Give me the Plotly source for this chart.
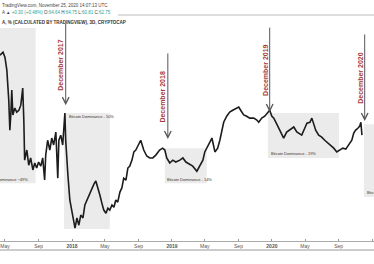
import plotly.graph_objects as go

# ---------------- data (Bitcoin dominance, %, 3D) ----------------
dates = [
    "2017-04-13", "2017-04-24", "2017-05-01", "2017-05-08", "2017-05-15", "2017-05-19", "2017-05-23",
    "2017-05-26", "2017-05-30", "2017-06-06", "2017-06-13", "2017-06-21", "2017-06-28", "2017-07-05",
    "2017-07-09", "2017-07-12", "2017-07-20", "2017-07-27", "2017-08-03", "2017-08-11", "2017-08-18",
    "2017-08-25", "2017-09-01", "2017-09-09", "2017-09-16", "2017-09-23", "2017-09-27", "2017-10-04",
    "2017-10-12", "2017-10-19", "2017-10-26", "2017-11-03", "2017-11-10", "2017-11-14", "2017-11-21",
    "2017-11-28", "2017-12-06", "2017-12-09", "2017-12-17", "2017-12-24", "2018-01-01", "2018-01-08",
    "2018-01-12", "2018-01-19", "2018-01-26", "2018-02-02", "2018-02-10", "2018-02-17", "2018-02-28",
    "2018-03-11", "2018-03-22", "2018-03-29", "2018-04-06", "2018-04-13", "2018-04-20", "2018-04-27",
    "2018-05-05", "2018-05-12", "2018-05-19", "2018-05-27", "2018-06-03", "2018-06-10", "2018-06-17",
    "2018-06-25", "2018-07-02", "2018-07-09", "2018-07-17", "2018-07-24", "2018-07-31", "2018-08-08",
    "2018-08-15", "2018-08-22", "2018-08-29", "2018-09-09", "2018-09-20", "2018-10-01", "2018-10-12",
    "2018-10-23", "2018-11-03", "2018-11-17", "2018-11-28", "2018-12-06", "2018-12-13", "2018-12-24",
    "2019-01-04", "2019-01-15", "2019-01-30", "2019-02-10", "2019-02-21", "2019-03-07", "2019-03-18",
    "2019-04-02", "2019-04-13", "2019-04-24", "2019-05-01", "2019-05-08", "2019-05-19", "2019-05-27",
    "2019-06-07", "2019-06-17", "2019-06-25", "2019-07-02", "2019-07-09", "2019-07-20", "2019-07-31",
    "2019-08-11", "2019-08-22", "2019-09-02", "2019-09-09", "2019-09-20", "2019-10-01", "2019-10-12",
    "2019-10-27", "2019-11-07", "2019-11-14", "2019-11-25", "2019-12-06", "2019-12-17", "2019-12-24",
    "2020-01-01", "2020-01-08", "2020-01-19", "2020-01-26", "2020-02-06", "2020-02-13", "2020-02-24",
    "2020-03-06", "2020-03-21", "2020-04-01", "2020-04-12", "2020-04-19", "2020-04-30", "2020-05-08",
    "2020-05-19", "2020-05-26", "2020-06-02", "2020-06-09", "2020-06-20", "2020-07-01", "2020-07-12",
    "2020-07-23", "2020-08-03", "2020-08-14", "2020-08-25", "2020-09-05", "2020-09-16", "2020-09-27",
    "2020-10-04", "2020-10-12", "2020-10-19", "2020-10-26", "2020-11-02", "2020-11-10", "2020-11-17",
    "2020-11-21", "2020-11-25",
]
dominance = [
    87.7, 88.7, 87.1, 83.0, 73.5, 64.0, 69.7,
    76.7, 68.8, 71.0, 69.7, 70.3, 71.9, 77.3,
    67.2, 54.5, 57.7, 52.9, 55.2, 51.4, 53.6,
    52.0, 53.9, 52.6, 55.2, 48.2, 56.1, 60.8,
    57.7, 61.5, 59.3, 63.4, 48.8, 60.8, 62.4,
    59.3, 69.4, 60.8, 49.8, 41.9, 38.1, 34.9,
    33.0, 36.2, 33.9, 37.1, 36.2, 40.3, 42.5,
    45.0, 46.9, 47.9, 45.7, 43.4, 40.9, 38.7,
    37.7, 39.3, 38.7, 40.3, 39.6, 41.9, 41.2,
    44.4, 45.7, 48.8, 48.2, 52.0, 52.6, 54.5,
    57.1, 57.7, 58.9, 60.8, 57.7, 55.8, 55.2,
    55.2, 56.1, 57.7, 58.3, 57.7, 55.2, 53.6,
    54.5, 53.9, 54.5, 55.2, 53.9, 53.3, 52.6,
    51.0, 52.6, 54.5, 57.1, 58.3, 60.2, 61.5,
    57.1, 58.3, 60.8, 64.0, 66.5, 68.4, 69.7,
    70.3, 70.7, 71.3, 70.3, 68.8, 68.4, 67.8,
    67.8, 67.2, 66.5, 67.8, 68.4, 69.7, 70.3,
    68.4, 67.8, 65.9, 64.6, 62.7, 61.5, 63.4,
    64.0, 65.0, 63.4, 62.7, 62.4, 64.6, 66.2,
    66.5, 67.8, 65.9, 64.0, 62.4, 61.8, 60.8,
    59.9, 59.3, 58.3, 57.1, 57.7, 58.3, 58.0,
    58.9, 59.9, 60.8, 63.1, 64.0, 64.6, 65.3,
    66.5, 62.4,
]

tick_dates = ["2017-05-01", "2017-09-01", "2018-01-01", "2018-05-01", "2018-09-01", "2019-01-01",
              "2019-05-01", "2019-09-01", "2020-01-01", "2020-05-01", "2020-09-01", "2021-01-01"]
tick_labels = ["May", "Sep", "<b>2018</b>", "May", "Sep", "<b>2019</b>",
               "May", "Sep", "<b>2020</b>", "May", "Sep", "<b>2021</b>"]

# highlighted periods: (start, end, low %, high %, label)
zone_start = ["2017-04-01", "2017-12-03", "2018-12-06", "2019-12-17", "2020-12-02"]
zone_end = ["2017-08-21", "2018-05-19", "2019-05-08", "2020-09-02", "2021-02-01"]
zone_low = [47.2, 32.7, 47.2, 55.2, 42.8]
zone_high = [96.3, 69.4, 58.3, 69.4, 65.9]
zone_labels = ["Bitcoin Dominance ~49%", "Bitcoin Dominance - 50%", "Bitcoin Dominance - 14%",
               "Bitcoin Dominance - 19%", "Bitcoin Dominance"]

# December markers
marker_labels = ["December 2017", "December 2018", "December 2019", "December 2020"]
marker_dates = ["2017-12-09", "2018-12-17", "2019-12-24", "2020-12-05"]
marker_head = [71.9, 61.2, 69.7, 66.9]

FONT = "Liberation Sans, Arial, sans-serif"

fig = go.Figure()
fig.add_trace(go.Scatter(x=dates, y=dominance, mode="lines",
                         line=dict(color="#1c1c1c", width=1.6), hoverinfo="skip"))

shapes = []
annotations = []
# label positions relative to zones
label_x = ["2017-08-01", "2017-12-12", "2018-12-06", "2019-12-21", "2020-12-05"]
label_y = [48.5, 68.4, 48.5, 56.5, 44.3]
label_anchor = ["right", "left", "left", "left", "left"]
for s, e, lo, hi, lab, lx, ly, la in zip(zone_start, zone_end, zone_low, zone_high, zone_labels,
                                         label_x, label_y, label_anchor):
    shapes.append(dict(type="rect", xref="x", yref="y", x0=s, x1=e, y0=lo, y1=hi,
                       fillcolor="#ebebeb", line=dict(width=0), layer="below"))
    annotations.append(dict(x=lx, y=ly, xref="x", yref="y", text=lab, showarrow=False,
                            xanchor=la, yanchor="middle",
                            font=dict(size=4, color="#333", family=FONT)))

tail_len = [-83, -87, -86, -88]
text_x = ["2017-11-17", "2018-11-28", "2019-12-06", "2020-11-17"]
text_y = [84.6, 74.5, 83.0, 80.5]
for lab, d, h, tl, tx, ty in zip(marker_labels, marker_dates, marker_head, tail_len, text_x, text_y):
    annotations.append(dict(x=d, y=h, xref="x", yref="y", text="", showarrow=True,
                            ax=0, ay=tl, arrowhead=5, arrowsize=1.3, arrowwidth=1,
                            arrowcolor="#555"))
    annotations.append(dict(x=tx, y=ty, xref="x", yref="y", text="<b>" + lab + "</b>",
                            showarrow=False, textangle=-90, xanchor="center", yanchor="middle",
                            font=dict(size=7, color="#a53a3c", family=FONT)))

# header texts
annotations.append(dict(x=0, y=1 - 5 / 241, xref="paper", yref="paper", xanchor="left",
                        yanchor="middle", showarrow=False,
                        text="TradingView.com, November 25, 2020 14:07:13 UTC",
                        font=dict(size=4.5, color="#444", family=FONT)))
annotations.append(dict(x=0, y=1 - 12 / 241, xref="paper", yref="paper", xanchor="left",
                        yanchor="middle", showarrow=False,
                        text="A ▲ <span style='color:#26a69a'>+0.30 (+0.48%)</span> O:<span style='color:#26a69a'>64.64</span> H:<span style='color:#26a69a'>64.75</span> L:<span style='color:#26a69a'>60.81</span> C:<span style='color:#26a69a'>62.75</span>",
                        font=dict(size=4.5, color="#444", family=FONT)))
annotations.append(dict(x=0, y=1 - 22 / 241, xref="paper", yref="paper", xanchor="left",
                        yanchor="middle", showarrow=False,
                        text="<b>A, % (CALCULATED BY TRADINGVIEW), 3D, CRYPTOCAP</b>",
                        font=dict(size=4.5, color="#333", family=FONT)))

shapes.append(dict(type="line", xref="paper", yref="paper", x0=118 / 374, x1=1,
                   y0=1 - 15 / 241, y1=1 - 15 / 241, line=dict(color="#bbbbbb", width=1)))
shapes.append(dict(type="line", xref="paper", yref="paper", x0=0, x1=1,
                   y0=-9 / 241, y1=-9 / 241, line=dict(color="#999999", width=1.2)))

fig.update_layout(
    width=374, height=264,
    margin=dict(l=0, r=0, t=0, b=23),
    paper_bgcolor="white", plot_bgcolor="white",
    showlegend=False,
    shapes=shapes, annotations=annotations,
    xaxis=dict(type="date", range=["2017-04-13", "2021-01-08"], showgrid=False,
               showline=True, linecolor="#aaaaaa", linewidth=1,
               ticks="inside", ticklen=2, tickcolor="#999", tickwidth=1,
               tickvals=tick_dates, ticktext=tick_labels,
               tickfont=dict(size=5, color="#555", family=FONT), zeroline=False),
    yaxis=dict(visible=False, range=[28.9, 105.2], fixedrange=True),
)

fig.write_html("out.html")
